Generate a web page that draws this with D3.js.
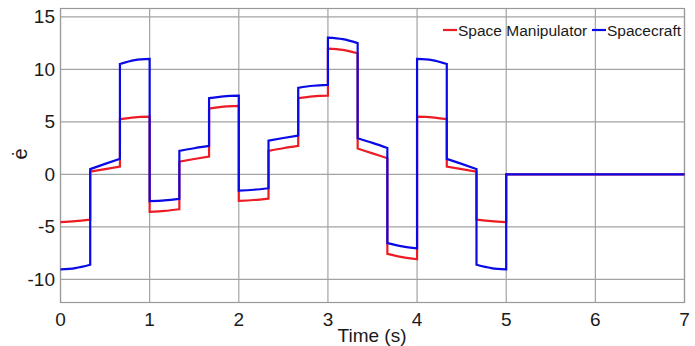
<!DOCTYPE html>
<html>
<head>
<meta charset="utf-8">
<script src="https://cdn.jsdelivr.net/npm/d3@7"></script>
<style>
  body { margin: 0; background: #fff; }
  text { font-family: "Liberation Sans", Arial, sans-serif; fill: #1a1a1a; }
</style>
</head>
<body>
<svg id="chart" width="695" height="346"></svg>
<script>
// switching instants (s), one segment between each pair
var switchTimes = [0, 1/3, 2/3, 1, 4/3, 5/3, 2, 7/3, 8/3, 3, 10/3, 11/3, 4, 13/3, 14/3, 5, 7];

// Space Manipulator: value at start, middle and end of each segment
var manipStart = [-4.55, 0.27, 5.26, -3.57, 1.22, 6.27, -2.52, 2.24, 7.26, 11.98, 2.46, -7.57, 5.50, 0.74, -4.30, 0];
var manipMid   = [-4.45, 0.50, 5.44, -3.48, 1.47, 6.45, -2.44, 2.49, 7.44, 11.86, 2.00, -7.88, 5.44, 0.50, -4.45, 0];
var manipEnd   = [-4.30, 0.74, 5.50, -3.32, 1.70, 6.52, -2.30, 2.71, 7.50, 11.54, 1.54, -8.08, 5.26, 0.27, -4.55, 0];

// Spacecraft
var craftStart = [-9.05, 0.50, 10.52, -2.55, 2.24, 7.26, -1.54, 3.22, 8.24, 13.03, 3.45, -6.55, 11.00, 1.48, -8.60, 0];
var craftMid   = [-8.92, 1.00, 10.88, -2.47, 2.49, 7.44, -1.46, 3.47, 8.44, 12.88, 3.00, -6.86, 10.88, 1.00, -8.92, 0];
var craftEnd   = [-8.60, 1.48, 11.00, -2.33, 2.71, 7.50, -1.32, 3.70, 8.52, 12.50, 2.52, -7.05, 10.52, 0.50, -9.05, 0];

var xTicks = [0, 1, 2, 3, 4, 5, 6, 7];
var yTicks = [-10, -5, 0, 5, 10, 15];

var svg = d3.select("#chart");
var x = d3.scaleLinear().domain([0, 7]).range([60.5, 684.5]);
var y = d3.scaleLinear().domain([-12.2, 15.8]).range([302.5, 8.5]);

// grid
var grid = svg.append("g").attr("stroke", "#a3a3a3").attr("stroke-width", 1.2);
grid.selectAll(".gx").data(xTicks).enter().append("line")
    .attr("x1", d => x(d)).attr("x2", d => x(d))
    .attr("y1", y.range()[0]).attr("y2", y.range()[1]);
grid.selectAll(".gy").data(yTicks).enter().append("line")
    .attr("x1", x.range()[0]).attr("x2", x.range()[1])
    .attr("y1", d => y(d)).attr("y2", d => y(d));

// frame
svg.append("rect")
    .attr("x", x.range()[0]).attr("y", y.range()[1])
    .attr("width", x.range()[1] - x.range()[0])
    .attr("height", y.range()[0] - y.range()[1])
    .attr("fill", "none").attr("stroke", "#999").attr("stroke-width", 1.2);

// tick labels
svg.selectAll(".xt").data(xTicks).enter().append("text")
    .attr("x", d => x(d)).attr("y", 326)
    .attr("text-anchor", "middle").style("font-size", "19px")
    .text(d => d);
svg.selectAll(".yt").data(yTicks).enter().append("text")
    .attr("x", 55).attr("y", d => y(d) + 6.5)
    .attr("text-anchor", "end").style("font-size", "19px")
    .text(d => d);

svg.append("text").attr("x", 372).attr("y", 342)
    .attr("text-anchor", "middle").style("font-size", "19px")
    .text("Time (s)");
svg.append("text").attr("transform", "translate(27,154) rotate(-90)")
    .attr("text-anchor", "middle").style("font-size", "20px")
    .text("ė");

// one continuous path: smooth inside a segment, vertical jump at each switch
var seg = d3.line().x(d => x(d[0])).y(d => y(d[1])).curve(d3.curveMonotoneX);
function buildPath(s, m, e) {
  var d = "";
  for (var i = 0; i < s.length; i++) {
    var t0 = switchTimes[i], t1 = switchTimes[i + 1];
    var part = seg([[t0, s[i]], [(t0 + t1) / 2, m[i]], [t1, e[i]]]);
    d += i === 0 ? part : part.replace(/^M/, "L");
  }
  return d;
}

var series = [
  {name: "Space Manipulator", color: "#ec1c24", s: manipStart, m: manipMid, e: manipEnd},
  {name: "Spacecraft", color: "#0a0ae6", s: craftStart, m: craftMid, e: craftEnd}
];

svg.selectAll(".series").data(series).enter().append("path")
    .attr("d", d => buildPath(d.s, d.m, d.e))
    .attr("fill", "none")
    .attr("stroke", d => d.color)
    .attr("stroke-width", 2.2)
    .attr("stroke-linejoin", "miter");

// legend
var legX = [443, 592];
var leg = svg.selectAll(".leg").data(series).enter().append("g")
    .attr("transform", (d, i) => "translate(" + legX[i] + ",0)");
leg.append("line").attr("x1", 0).attr("x2", 14).attr("y1", 30).attr("y2", 30)
    .attr("stroke", d => d.color).attr("stroke-width", 2.2);
leg.append("text").attr("x", 15).attr("y", 36)
    .style("font-size", "15.5px").text(d => d.name);
</script>
</body>
</html>
